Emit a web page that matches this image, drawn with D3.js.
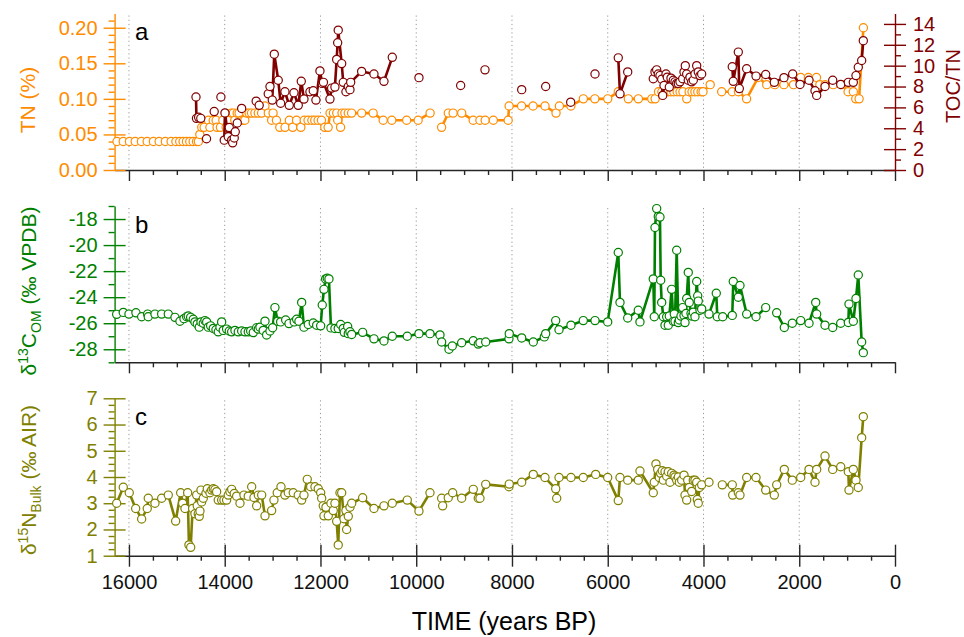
<!DOCTYPE html>
<html>
<head>
<meta charset="utf-8">
<script src="https://cdn.jsdelivr.net/npm/d3@7"></script>
<style>
  body { margin: 0; background: #fff; }
  svg { display: block; }
</style>
</head>
<body>
<svg id="chart" width="964" height="637"></svg>
<script>
// ---- Time axis ticks (years BP) ----
const timeTicks = [16000, 14000, 12000, 10000, 8000, 6000, 4000, 2000, 0];
const gridTimes = [16000, 14000, 12000, 10000, 8000, 6000, 4000, 2000];

// ---- Panel a: total nitrogen (%) ----
const tnAge = [
  16250,16120,15990,15870,15740,15620,15490,15370,15240,15120,
  15020,14940,14870,14800,14730,14660,14590,14550,14520,14480,
  14430,14340,14310,14240,14180,14160,14090,14040,13970,13900,
  13860,13820,13790,13740,13700,13650,13610,13580,13540,13490,
  13440,13370,13300,13230,13160,13090,13020,12990,12920,12850,
  12740,12650,12580,12500,12410,12340,12260,12180,12120,12050,
  11980,11910,11840,11800,11730,11660,11640,11580,11550,11490,
  11420,11350,11140,10900,10690,10510,10200,9960,9710,null,
  9470,9330,9230,9050,8810,8670,8560,8390,8080,8060,
  7800,7560,7310,7080,7010,6770,6510,6270,6000,5780,
  5570,5360,5080,5010,4940,4870,4800,4740,4680,4620,
  4550,4490,4430,4350,4300,4240,4180,4120,4050,4010,
  3860,null,3620,3400,3270,3100,2860,2680,2510,2320,
  2120,1970,1810,1640,1570,1460,1290,1110,980,870,
  820,750,660
];
const tnPct = [
  .04,.04,.04,.04,.04,.04,.04,.04,.04,.04,
  .04,.04,.04,.04,.04,.04,.04,.04,.05,.06,
  .06,.07,.06,.07,.07,.06,.06,.07,.06,.07,
  .08,.08,.07,.08,.08,.07,.07,.07,.08,.08,
  .08,.08,.08,.08,.09,.08,.07,.08,.07,.06,
  .06,.07,.06,.07,.06,.07,.07,.07,.07,.07,
  .07,.06,.06,.08,.08,.08,.07,.06,.08,.08,
  .08,.08,.08,.08,.07,.07,.07,.07,.08,null,
  .06,.08,.08,.08,.07,.07,.07,.07,.07,.09,
  .09,.09,.09,.08,.09,.09,.10,.10,.10,.11,
  .10,.10,.10,.10,.11,.11,.11,.11,.11,.11,
  .11,.11,.11,.10,.11,.11,.11,.11,.11,.11,
  .12,null,.11,.11,.11,.10,.13,.12,.12,.12,
  .12,.13,.13,.13,.12,.12,.12,.12,.11,.11,
  .10,.10,.20
];

// ---- Panel a: TOC/TN ratio ----
const tocAge = [
  14600,14590,14545,14500,null,14380,null,14220,null,14080,
  null,14010,13995,13926,13905,13855,13834,13801,13780,13738,
  null,13646,null,13343,13280,null,13091,13055,13007,12965,
  12882,12832,12742,12652,12554,12464,12401,12345,12220,12151,
  12095,12011,11963,11938,11802,11767,11698,11662,11641,11629,
  11557,11524,11468,11419,11384,11369,11140,10883,10674,10500,
  null,9943,null,9072,null,8564,null,7797,null,7296,
  null,6774,null,6266,null,5780,5744,5583,null,5049,
  5013,4978,4944,4909,4873,4852,4825,4783,4756,4714,
  4679,4631,4595,4560,4526,4491,4435,4407,4380,4351,
  4318,4282,4247,4213,4178,4142,4109,4073,4038,null,
  3399,3378,3273,3252,3098,2903,2701,2521,2319,2137,
  1984,1796,1671,1636,1462,1301,1134,975,871,815,
  767,696,662
];
const tocRatio = [
  7.0,4.95,5.05,4.95,null,3.0,null,5.6,null,7.0,
  null,2.86,5.47,3.18,4.07,2.86,2.6,3.07,3.66,4.5,
  null,5.9,null,6.6,6.2,null,7.3,8.0,6.7,11.1,
  8.6,6.4,7.5,6.2,7.4,6.2,8.5,6.8,7.5,7.6,
  6.7,9.5,8.3,8.4,6.8,7.85,7.95,10.6,12.2,13.4,
  10.2,8.4,7.5,8.0,7.7,8.4,9.45,9.2,8.5,10.8,
  null,8.85,null,8.1,null,9.6,null,7.7,null,8.0,
  null,6.5,null,9.2,null,10.75,7.3,9.4,null,8.75,
  9.4,9.6,9.2,9.05,8.7,7.15,8.1,9.2,8.9,7.95,
  8.8,8.6,8.45,8.3,8.3,8.45,8.75,9.4,10.0,9.2,
  8.6,8.9,8.45,8.6,9.2,10.0,9.4,9.05,9.2,null,
  9.9,8.5,11.3,7.8,9.7,9.0,9.15,8.4,8.85,9.2,
  8.2,8.6,7.6,7.15,8.0,8.6,8.2,8.4,8.4,9.05,
  9.85,10.5,12.4
];

// ---- Panel b: organic matter carbon isotopes (permil VPDB) ----
const c13Age = [
  16257,16119,16000,15854,15735,15610,15597,15457,15317,15179,
  15039,14935,14851,14795,14762,14712,14657,14622,14574,14532,
  14496,14448,14413,14377,14344,14294,14239,14183,14135,14099,
  14064,14031,13961,13905,13855,13786,13717,13646,13577,13508,
  13458,13404,13333,13299,13264,13196,13159,13125,13055,12999,
  12951,12894,12832,12727,12658,12548,12498,12450,12393,12345,
  12255,12151,12080,11996,11963,11927,11892,11858,11823,11781,
  11698,11629,11578,11524,11503,11432,11419,11384,11348,11119,
  10883,10674,10500,10187,9943,9713,9504,9469,9316,9247,
  9051,8808,8704,8669,8549,8063,8057,7797,7555,7325,
  7296,7087,7018,6768,6511,6266,6001,5780,5744,5583,
  5362,5327,5049,5028,5013,4978,4944,4909,4894,4873,
  4839,4804,4769,4735,4714,4665,4631,4610,4595,4560,
  4526,4505,4470,4435,4407,4386,4366,4351,4318,4297,
  4261,4240,4213,4178,4142,4121,4109,4073,4038,3885,
  3733,3712,3599,3399,3378,3273,3238,3098,2903,2701,
  null,2471,2312,2145,1970,1796,1656,1636,1462,1301,
  1134,975,961,871,815,767,696,662
];
const c13Val = [
  -25.32,-25.17,-25.3,-25.2,-25.5,-25.3,-25.5,-25.3,-25.3,-25.3,
  -25.55,-25.85,-25.65,-25.5,-25.45,-25.55,-25.7,-25.9,-26.05,-26.3,
  -25.9,-26.0,-25.8,-25.9,-26.3,-26.2,-26.4,-26.5,-26.66,-26.3,
  -25.9,-26.55,-26.45,-26.6,-26.66,-26.55,-26.66,-26.6,-26.66,-26.66,
  -26.6,-26.72,-26.35,-26.45,-26.3,-26.55,-25.84,-26.9,-26.6,-26.35,
  -24.8,-25.85,-25.9,-25.75,-26.03,-25.9,-25.7,-25.85,-24.4,-26.3,
  -26.1,-25.98,-26.15,-26.2,-24.6,-23.4,-22.6,-22.55,-22.6,-26.36,
  -26.4,-26.4,-26.1,-26.4,-26.7,-26.25,-26.8,-26.66,-26.86,-26.7,
  -27.2,-27.36,-27.0,-27.0,-26.8,-26.8,-26.9,-27.44,-28.0,-27.75,
  -27.5,-27.35,-27.6,-27.5,-27.44,-27.2,-26.8,-27.13,-27.44,-27.05,
  -26.8,-25.8,-26.5,-26.15,-25.8,-25.8,-25.9,-20.57,-24.4,-25.6,
  -25.0,-25.9,-22.6,-25.5,-18.65,-17.2,-17.8,-17.85,-22.7,-24.4,
  -25.5,-26.15,-25.5,-26.15,-25.45,-23.4,-25.85,-25.3,-25.85,-20.4,
  -25.95,-25.75,-25.45,-24.8,-25.4,-25.95,-25.25,-24.1,-22.1,-24.4,
  -25.25,-25.45,-25.15,-25.5,-22.8,-23.9,-24.3,-25.0,-24.9,-25.3,
  -23.7,-25.5,-25.5,-25.4,-22.8,-24.0,-23.1,-25.3,-25.5,-24.8,
  null,-25.2,-26.33,-26.0,-25.8,-26.0,-24.4,-25.3,-26.15,-26.33,
  -26.0,-25.94,-24.53,-25.85,-24.1,-22.3,-27.44,-28.26
];

// ---- Panel c: bulk nitrogen isotopes (permil AIR) ----
const n15Age = [
  16257,16119,15994,15860,15735,15618,15597,15457,15317,15179,
  15025,14920,14879,14830,14774,14747,14711,14670,14622,14586,
  14574,14553,14532,14517,14496,14482,14448,14392,14364,14308,
  14273,14239,14204,14169,14135,14064,14016,13961,13926,13891,
  13855,13801,13751,13681,13598,13508,13437,13389,13333,13299,
  13228,13159,13020,12972,12903,12825,12742,12673,12569,12464,
  12393,12345,12276,12205,12115,12046,11996,11975,11942,11927,
  11885,11837,11781,11733,11698,11662,11629,11593,11557,11509,
  11468,11454,11419,11384,11348,11119,10883,10674,10500,10187,
  9943,9713,null,9469,9448,9331,9239,9051,8808,8704,
  8669,8549,8063,8057,7797,7555,7311,7087,7066,7018,
  6768,6511,6252,6001,5780,5744,5583,5362,5327,5049,
  5028,4993,4957,4923,4894,4861,4839,4804,4769,4735,
  4700,4665,4616,4595,4560,4526,4505,4456,4407,4386,
  4351,4330,4297,4247,4213,4178,4142,4129,4109,4088,
  4038,3885,null,3607,3399,3390,3273,3238,3098,2903,
  2701,2521,2471,2312,2145,1970,1796,1671,1636,1462,
  1301,1134,975,961,871,815,767,696,662
];
const n15Val = [
  3.0,3.61,3.4,2.8,2.4,2.8,3.19,3.0,3.19,3.31,
  2.32,3.4,3.0,2.8,3.4,1.41,1.32,2.8,2.6,3.31,
  2.9,2.6,2.5,2.7,3.5,3.05,3.19,3.38,3.55,3.4,
  3.5,3.55,3.52,3.44,3.12,3.12,3.12,3.12,3.31,3.44,
  3.53,3.37,3.27,3.0,3.31,3.27,3.63,3.22,2.9,3.31,
  3.31,2.52,2.72,3.12,3.4,3.63,3.31,3.4,3.4,3.31,
  3.12,3.31,3.91,3.63,3.63,3.55,3.4,3.19,2.9,2.52,
  2.85,2.52,3.0,2.72,3.0,2.31,1.41,3.4,3.4,2.41,
  2.72,2.0,2.5,2.85,3.0,3.21,2.8,2.9,3.0,3.12,
  2.7,3.4,null,3.19,2.9,3.21,3.4,3.19,3.53,3.19,
  3.19,3.72,3.63,3.73,3.8,4.1,3.98,3.55,3.19,3.98,
  3.98,3.98,4.1,3.98,3.1,3.98,3.88,3.88,4.23,3.4,
  3.8,4.5,4.29,3.98,4.14,4.24,3.88,4.2,4.03,4.2,
  3.8,4.14,4.07,4.0,3.88,4.0,3.8,3.88,4.07,3.31,
  3.12,3.88,3.6,3.45,3.88,3.88,3.8,3.14,3.0,3.6,
  3.7,3.8,null,3.7,3.7,3.31,3.4,3.31,3.98,3.98,
  3.5,3.31,3.7,4.29,3.88,3.98,4.29,3.8,4.29,4.8,
  4.29,4.39,4.2,3.5,4.29,3.88,3.6,5.5,6.3
];

// ---- Axis tick values ----
const tnTicks = [0, 0.05, 0.10, 0.15, 0.20];
const tocTicks = [0, 2, 4, 6, 8, 10, 12, 14];
const c13Ticks = [-28, -26, -24, -22, -20, -18];
const n15Ticks = [1, 2, 3, 4, 5, 6, 7];

// ---- Drawing ----
const FONT = "'Liberation Sans', Arial, Helvetica, sans-serif";
const COL = { tn: '#ff8c00', toc: '#800000', c13: '#008000', n15: '#808000', axis: '#262626' };

const svg = d3.select('#chart');

const x = d3.scaleLinear().domain([16300, 0]).range([114.6, 895]);

const panelA = { top: 13.5, bottom: 170 };
const panelB = { top: 206, bottom: 362.3 };
const panelC = { top: 398.3, bottom: 555.7 };

const yTN = d3.scaleLinear().domain([0, 0.22]).range([panelA.bottom, panelA.top]);
const yTOC = d3.scaleLinear().domain([0, 15]).range([panelA.bottom, panelA.top]);
const yC13 = d3.scaleLinear().domain([-29, -17]).range([panelB.bottom, panelB.top]);
const yN15 = d3.scaleLinear().domain([1, 7]).range([panelC.bottom, panelC.top]);

// dotted vertical grid
[panelA, panelB, panelC].forEach(p => {
  svg.append('g').selectAll('line').data(gridTimes).join('line')
    .attr('x1', d => x(d)).attr('x2', d => x(d))
    .attr('y1', p.top + 2).attr('y2', p.bottom)
    .attr('stroke', '#999').attr('stroke-width', 1)
    .attr('stroke-dasharray', '1.2,3');
});

function minorRange(lo, hi, step, majors) {
  const out = [];
  for (let v = lo; v <= hi + 1e-9; v += step) {
    const r = Math.round(v * 1000) / 1000;
    if (!majors.some(m => Math.abs(m - r) < 1e-6)) out.push(r);
  }
  return out;
}

function vAxis(scale, xPos, majors, minors, color, fmt, right) {
  const mk = right ? d3.axisRight : d3.axisLeft;
  const gMin = svg.append('g').attr('transform', `translate(${xPos},0)`)
    .call(mk(scale).tickValues(minors).tickSize(6).tickSizeOuter(0).tickFormat(''));
  gMin.select('.domain').remove();
  const g = svg.append('g').attr('transform', `translate(${xPos},0)`)
    .attr('font-size', 20).attr('font-family', FONT)
    .call(mk(scale).tickValues(majors).tickSize(11).tickSizeOuter(0).tickPadding(right ? 7 : 6).tickFormat(fmt));
  g.selectAll('.tick line').attr('x1', right ? -11 : 11);
  [gMin, g].forEach(s => {
    s.selectAll('line, path').attr('stroke', color).attr('stroke-width', 1.4);
    s.selectAll('text').attr('fill', color);
  });
  g.selectAll('text').attr('font-size', 20).attr('font-family', FONT);
}

function hAxis(yPos, labelled) {
  const minors = minorRange(500, 16000, 500, timeTicks);
  const gMin = svg.append('g').attr('transform', `translate(0,${yPos})`)
    .call(d3.axisBottom(x).tickValues(minors).tickSize(5).tickSizeOuter(0).tickFormat(''));
  gMin.select('.domain').remove();
  const g = svg.append('g').attr('transform', `translate(0,${yPos})`)
    .attr('font-size', 20).attr('font-family', FONT)
    .call(d3.axisBottom(x).tickValues(timeTicks).tickSize(11).tickSizeOuter(0).tickPadding(8)
      .tickFormat(labelled ? (d => String(d)) : ''));
  if (labelled) g.selectAll('.tick line').attr('y1', -11);
  [gMin, g].forEach(s => s.selectAll('line, path').attr('stroke', COL.axis).attr('stroke-width', 1.4));
  g.selectAll('text').attr('fill', '#111').attr('font-size', 20).attr('font-family', FONT);
}

hAxis(panelA.bottom, false);
hAxis(panelB.bottom, false);
hAxis(panelC.bottom, true);

vAxis(yTN, 114.6, tnTicks, minorRange(0, 0.21, 0.01, tnTicks), COL.tn, d => d.toFixed(2), false);
vAxis(yTOC, 895, tocTicks, minorRange(1, 13, 1, tocTicks), COL.toc, d => String(d), true);
vAxis(yC13, 114.6, c13Ticks, minorRange(-29, -17, 1, c13Ticks), COL.c13, d => String(d), false);
vAxis(yN15, 114.6, n15Ticks, minorRange(1, 7, 0.25, n15Ticks), COL.n15, d => String(d), false);

function drawSeries(ages, vals, yScale, color) {
  const data = ages.map((a, i) => ({ a, v: vals[i] }));
  const ok = d => d.a != null && d.v != null;
  const line = d3.line().defined(ok).x(d => x(d.a)).y(d => yScale(d.v));
  const g = svg.append('g');
  g.append('path').datum(data).attr('d', line)
    .attr('fill', 'none').attr('stroke', color).attr('stroke-width', 2.6)
    .attr('stroke-linejoin', 'round');
  g.selectAll('circle').data(data.filter(ok)).join('circle')
    .attr('cx', d => x(d.a)).attr('cy', d => yScale(d.v)).attr('r', 4.1)
    .attr('fill', '#fff').attr('stroke', color).attr('stroke-width', 1.2);
}

drawSeries(tnAge, tnPct, yTN, COL.tn);
drawSeries(tocAge, tocRatio, yTOC, COL.toc);
drawSeries(c13Age, c13Val, yC13, COL.c13);
drawSeries(n15Age, n15Val, yN15, COL.n15);

// panel letters
[['a', 40], ['b', 233], ['c', 425]].forEach(([t, yb]) => {
  svg.append('text').attr('x', 135).attr('y', yb).text(t)
    .attr('font-size', 24).attr('font-family', FONT).attr('fill', '#000');
});

// axis titles
svg.append('text').attr('transform', 'translate(35,100) rotate(-90)')
  .attr('text-anchor', 'middle').attr('font-size', 21).attr('font-family', FONT)
  .attr('fill', COL.tn).text('TN (%)');

svg.append('text').attr('transform', 'translate(960,86) rotate(-90)')
  .attr('text-anchor', 'middle').attr('font-size', 20).attr('font-family', FONT)
  .attr('fill', COL.toc).text('TOC/TN');

const tB = svg.append('text').attr('transform', 'translate(36,291) rotate(-90)')
  .attr('text-anchor', 'middle').attr('font-size', 21).attr('font-family', FONT)
  .attr('fill', COL.c13);
tB.append('tspan').text('δ');
tB.append('tspan').attr('dy', -8).attr('font-size', 14).text('13');
tB.append('tspan').attr('dy', 8).text('C');
tB.append('tspan').attr('dy', 5).attr('font-size', 14).text('OM');
tB.append('tspan').attr('dy', -5).text(' (‰ VPDB)');

const tC = svg.append('text').attr('transform', 'translate(36,480) rotate(-90)')
  .attr('text-anchor', 'middle').attr('font-size', 21).attr('font-family', FONT)
  .attr('fill', COL.n15);
tC.append('tspan').text('δ');
tC.append('tspan').attr('dy', -8).attr('font-size', 14).text('15');
tC.append('tspan').attr('dy', 8).text('N');
tC.append('tspan').attr('dy', 5).attr('font-size', 14).text('Bulk');
tC.append('tspan').attr('dy', -5).text(' (‰ AIR)');

svg.append('text').attr('x', 504).attr('y', 630).attr('text-anchor', 'middle')
  .attr('font-size', 25).attr('font-family', FONT).attr('fill', '#000')
  .text('TIME (years BP)');
</script>
</body>
</html>
